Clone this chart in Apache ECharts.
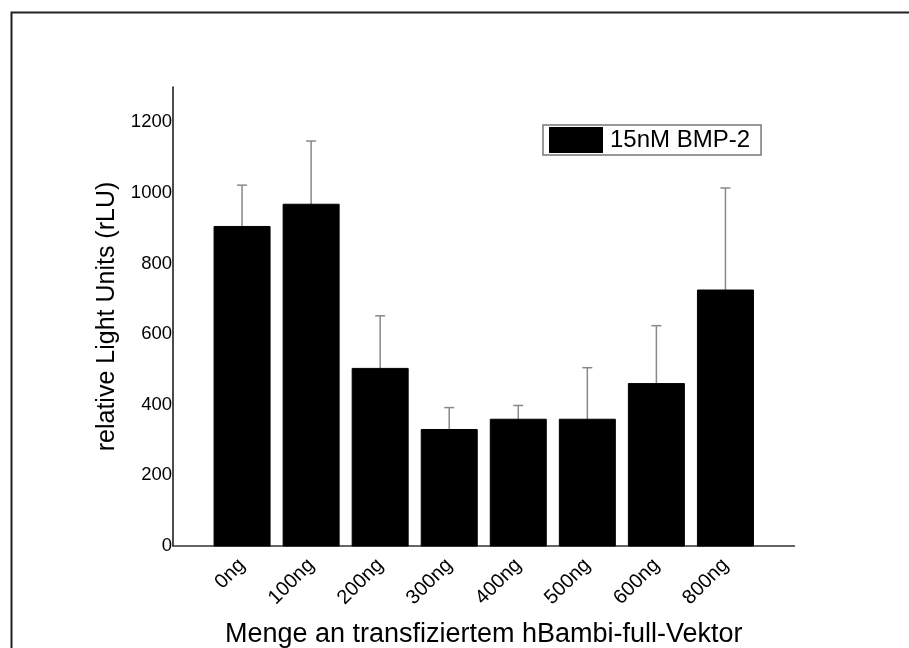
<!DOCTYPE html>
<html>
<head>
<meta charset="utf-8">
<script src="https://cdn.jsdelivr.net/npm/echarts@6/dist/echarts.min.js"></script>
<style>html,body{margin:0;padding:0;background:#fff}#c{width:909px;height:648px}</style>
</head>
<body>
<div id="c"></div>
<script>
const categories = ['0ng','100ng','200ng','300ng','400ng','500ng','600ng','800ng'];
const values = [905, 968, 503, 330, 359, 359, 460, 725];
const errorTops = [1022, 1147, 652, 392, 398, 505, 624, 1014];
const seriesName = '15nM BMP-2';
const yTicks = [0, 200, 400, 600, 800, 1000, 1200];

const axisCats = [''].concat(categories, ['']);
const barData = [null].concat(values, [null]);
const errData = categories.map((c, i) => [i + 1, values[i], errorTops[i]]);

const chart = echarts.init(document.getElementById('c'));
const font = 'Liberation Sans, Arial, sans-serif';
chart.setOption({
  backgroundColor: '#fff',
  animation: false,
  grid: {left: 173, right: 114.5, top: 87, bottom: 102, containLabel: false, outerBoundsMode: 'none'},
  graphic: [{
    type: 'rect', left: 9, top: 10, z: 100, silent: true,
    shape: {x: 0, y: 0, width: 940, height: 680},
    style: {fill: 'none', stroke: '#222', lineWidth: 2}
  }],
  legend: {
    data: [{name: seriesName, icon: 'rect'}], left: 543, top: 125,
    itemWidth: 54, itemHeight: 26, itemGap: 8,
    padding: [2, 11, 2, 6],
    borderColor: '#777', borderWidth: 1.5,
    backgroundColor: '#fff',
    textStyle: {fontFamily: font, fontSize: 24, color: '#000', padding: [0, 0, 0, 2]}
  },
  xAxis: {
    type: 'category', data: axisCats, boundaryGap: false,
    name: 'Menge an transfiziertem hBambi-full-Vektor',
    nameLocation: 'middle', nameGap: 75,
    nameTextStyle: {fontFamily: font, fontSize: 27, color: '#000'},
    axisLine: {lineStyle: {color: '#333', width: 1.5}},
    axisTick: {show: false},
    axisLabel: {rotate: 45, interval: 0, margin: 16, fontFamily: font, fontSize: 20, color: '#000'},
    splitLine: {show: false}
  },
  yAxis: {
    type: 'value', min: 0, max: 1300, interval: 200,
    name: 'relative Light Units (rLU)',
    nameLocation: 'middle', nameGap: 40,
    nameTextStyle: {fontFamily: font, fontSize: 25, color: '#000'},
    axisLine: {show: true, lineStyle: {color: '#111', width: 1.5}},
    axisTick: {show: false},
    axisLabel: {
      margin: 1, fontFamily: font, fontSize: 18.5, color: '#000',
      formatter: v => (yTicks.indexOf(v) >= 0 ? String(v) : '')
    },
    splitLine: {show: false}
  },
  series: [
    {
      name: seriesName, type: 'bar', data: barData, barWidth: 56,
      itemStyle: {color: '#000', borderColor: '#000'}
    },
    {
      type: 'custom', name: 'err', silent: true, z: 1,
      renderItem: function (params, api) {
        const x = api.value(0);
        const lo = api.coord([x, api.value(1)]);
        const hi = api.coord([x, api.value(2)]);
        const cap = 5;
        const style = {stroke: '#888', lineWidth: 1.5};
        return {
          type: 'group',
          children: [
            {type: 'line', shape: {x1: hi[0], y1: lo[1], x2: hi[0], y2: hi[1]}, style: style},
            {type: 'line', shape: {x1: hi[0] - cap, y1: hi[1], x2: hi[0] + cap, y2: hi[1]}, style: style}
          ]
        };
      },
      encode: {x: 0, y: [1, 2]},
      data: errData
    }
  ]
});
</script>
</body>
</html>
